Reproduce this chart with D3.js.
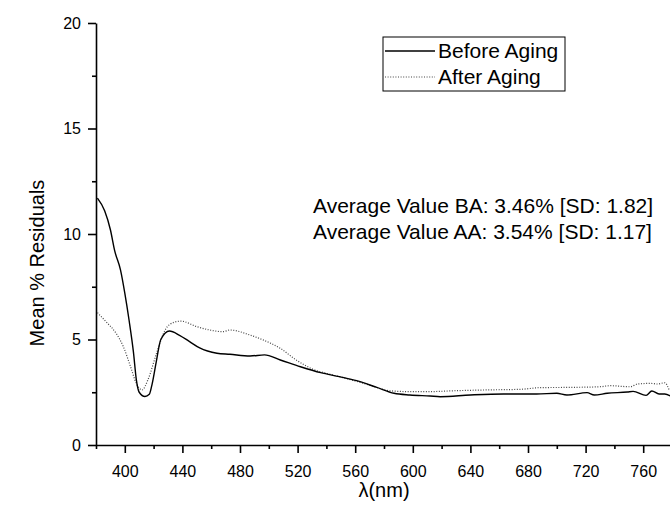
<!DOCTYPE html>
<html>
<head>
<meta charset="utf-8">
<script src="https://d3js.org/d3.v7.min.js"></script>
<style>
  body { margin: 0; background: #fff; }
  text { font-family: "Liberation Sans", Arial, sans-serif; fill: #000; }
</style>
</head>
<body>
<svg width="670" height="509"></svg>
<script>

// wavelength (nm) and mean % residuals
var beforeNm  = [381,386,390,393,397,400,403,406,408,410,414,417,419,422,425,431,438,445,452,464,473,487,497,508,522,536,549,561,575,587,598,612,619,640,663,686,700,707,721,726,735,749,753,762,766,771,775,779];
var beforeVal = [11.7,11.1,10.2,9.2,8.3,7.2,5.9,4.4,3.1,2.5,2.3,2.4,2.9,4.0,5.0,5.4,5.2,4.9,4.6,4.35,4.3,4.22,4.27,4.03,3.71,3.43,3.24,3.05,2.73,2.45,2.37,2.32,2.29,2.37,2.42,2.42,2.45,2.37,2.48,2.37,2.45,2.51,2.54,2.35,2.56,2.42,2.42,2.32];

var afterNm  = [381,387,394,399,404,408,412,416,422,428,434,439,450,459,468,473,487,496,508,519,531,542,556,570,584,598,612,628,651,675,689,709,730,737,751,756,765,770,775,778];
var afterVal = [6.27,5.84,5.29,4.66,3.71,2.92,2.61,3.08,4.34,5.45,5.81,5.87,5.61,5.45,5.37,5.45,5.21,4.98,4.58,4.03,3.58,3.36,3.11,2.84,2.57,2.53,2.53,2.57,2.61,2.64,2.72,2.73,2.76,2.81,2.76,2.89,2.92,2.89,2.95,2.61];

var xMajor = [400,440,480,520,560,600,640,680,720,760];
var xMinor = [380,420,460,500,540,580,620,660,700,740,780];
var yMajor = [0,5,10,15,20];
var yMinor = [2.5,7.5,12.5,17.5];

var seriesNames = ["Before Aging", "After Aging"];
var notes = ["Average Value BA: 3.46% [SD: 1.82]", "Average Value AA: 3.54% [SD: 1.17]"];

var svg = d3.select("svg");

var x = d3.scaleLinear().domain([380, 780]).range([96, 672]);
var y = d3.scaleLinear().domain([0, 20]).range([445, 23]);

// minor ticks first, then major axes on top
svg.append("g")
  .attr("transform", "translate(0,445)")
  .call(d3.axisBottom(x).tickValues(xMinor).tickSize(4).tickFormat(""))
  .call(function(g) { g.select(".domain").remove(); });

svg.append("g")
  .attr("transform", "translate(96,0)")
  .call(d3.axisLeft(y).tickValues(yMinor).tickSize(4).tickFormat(""))
  .call(function(g) { g.select(".domain").remove(); });

var xAxis = svg.append("g")
  .attr("transform", "translate(0,445)")
  .call(d3.axisBottom(x).tickValues(xMajor).tickSize(8).tickSizeOuter(0).tickPadding(13));

var yAxis = svg.append("g")
  .attr("transform", "translate(96,0)")
  .call(d3.axisLeft(y).tickValues(yMajor).tickSize(8).tickSizeOuter(0).tickPadding(7));

svg.selectAll(".tick line, .domain").attr("stroke", "#000").attr("stroke-width", 1.6);
svg.selectAll(".tick text").style("font-size", "16px").attr("font-family", null);

// axis titles
svg.append("text")
  .attr("x", 384).attr("y", 497)
  .attr("text-anchor", "middle")
  .style("font-size", "20px")
  .text("λ(nm)");

svg.append("text")
  .attr("transform", "translate(44,263) rotate(-90)")
  .attr("text-anchor", "middle")
  .style("font-size", "20px")
  .text("Mean % Residuals");

// curves
var line = d3.line()
  .x(function(d) { return x(d[0]); })
  .y(function(d) { return y(d[1]); })
  .curve(d3.curveMonotoneX);

var before = d3.zip(beforeNm, beforeVal);
var after = d3.zip(afterNm, afterVal);

svg.append("path")
  .datum(after)
  .attr("fill", "none")
  .attr("stroke", "#444")
  .attr("stroke-width", 1.2)
  .attr("stroke-dasharray", "1,1.6")
  .attr("d", line);

svg.append("path")
  .datum(before)
  .attr("fill", "none")
  .attr("stroke", "#000")
  .attr("stroke-width", 1.4)
  .attr("d", line);

// legend
var legend = svg.append("g");
legend.append("rect")
  .attr("x", 383).attr("y", 37)
  .attr("width", 182).attr("height", 54)
  .attr("fill", "#fff").attr("stroke", "#000").attr("stroke-width", 1);

var styles = [{ c: "#000", w: 1.4, dash: null }, { c: "#444", w: 1.2, dash: "1,1.6" }];
seriesNames.forEach(function(name, i) {
  var ly = 51 + i * 26;
  legend.append("line")
    .attr("x1", 385).attr("x2", 435)
    .attr("y1", ly).attr("y2", ly)
    .attr("stroke", styles[i].c)
    .attr("stroke-width", styles[i].w)
    .attr("stroke-dasharray", styles[i].dash);
  legend.append("text")
    .attr("x", 438).attr("y", ly + 7)
    .style("font-size", "21px")
    .text(name);
});

// annotation
notes.forEach(function(t, i) {
  svg.append("text")
    .attr("x", 313).attr("y", 213 + i * 26)
    .style("font-size", "21px")
    .text(t);
});

</script>
</body>
</html>
